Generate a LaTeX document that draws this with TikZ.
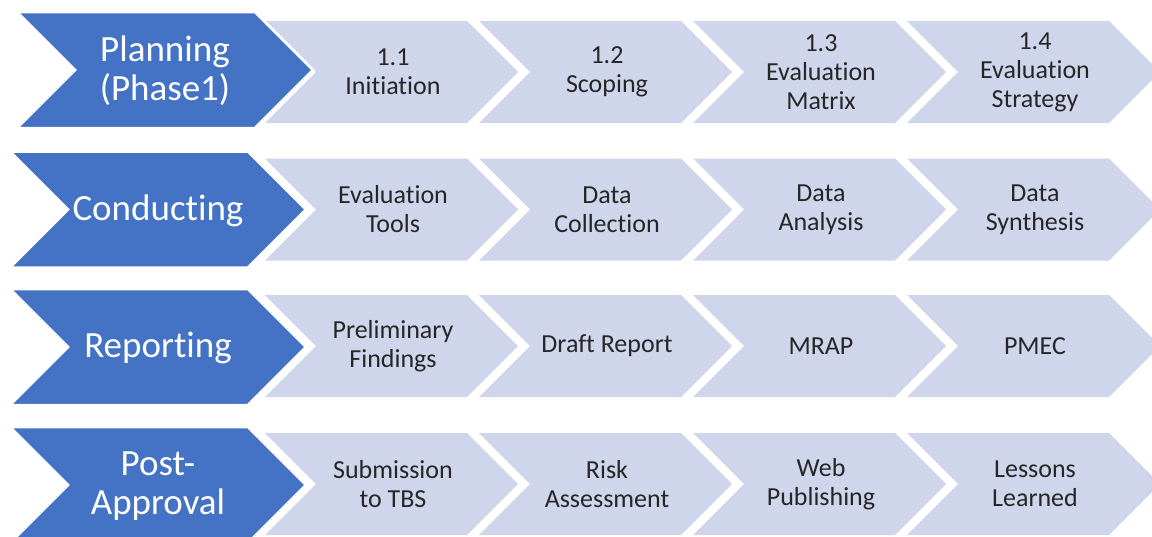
\documentclass[tikz,border=0pt]{standalone}
\usepackage{fontspec}
\setmainfont{Carlito}[Ligatures=NoCommon]
\definecolor{phaseblue}{HTML}{4472C4}
\definecolor{steplight}{HTML}{CFD5EA}
\definecolor{steptext}{HTML}{262626}
\begin{document}
\begin{tikzpicture}[x=1pt,y=-1pt,
  phasetext/.style={text=white, font=\fontsize{37}{39}\selectfont, align=center, inner sep=0pt},
  steplabel/.style={text=steptext, font=\fontsize{26}{29}\selectfont, align=center, inner sep=0pt},
  phaseshape/.style={fill=phaseblue, draw=white, line width=2.5pt, line join=miter},
  stepshape/.style={fill=steplight}]
\useasboundingbox (0,0) rectangle (1152,536);
\clip (0,0) rectangle (1152,536);
% one row per phase: phase-arrow centre, step centre, left edge of the phase arrow,
% name, phase label, four steps
\foreach \cy/\ly/\px/\row/\ph/\sa/\sb/\sc/\sd in {
  70/72/17/plan/{Planning\\(Phase1)}/{1.1\\Initiation}/{1.2\\Scoping}/{1.3\\Evaluation\\Matrix}/{1.4\\Evaluation\\Strategy},
  209.5/209.5/10/cond/{Conducting}/{Evaluation\\Tools}/{Data\\Collection}/{Data\\Analysis}/{Data\\Synthesis},
  347/346/10/rep/{Reporting}/{Preliminary\\Findings}/{Draft Report}/{MRAP}/{PMEC},
  485/484/10/post/{Post-\\Approval}/{Submission\\to TBS}/{Risk\\Assessment}/{Web\\Publishing}/{Lessons\\Learned}}
{
  % light step chevrons, drawn right to left so the phase arrow sits on top
  \foreach \i/\txt in {3/\sd, 2/\sc, 1/\sb, 0/\sa} {
    \pgfmathsetmacro\L{265+214*\i}
    \fill[stepshape] (\L,\ly-51) -- ++(202,0) -- ++(51,51) -- ++(-51,51)
      -- ++(-202,0) -- ++(51,-51) -- cycle;
    \node[steplabel] (\row-\i) at (\L+128,\ly) {\txt};
  }
  % phase chevron
  \draw[phaseshape] (\px,\cy-58) -- (\px+238,\cy-58) -- (\px+296,\cy) -- (\px+238,\cy+58)
    -- (\px,\cy+58) -- (\px+58,\cy) -- cycle;
  \node[phasetext] (\row-ph) at (\px+148,\cy+1) {\ph};
}
\end{tikzpicture}
\end{document}
